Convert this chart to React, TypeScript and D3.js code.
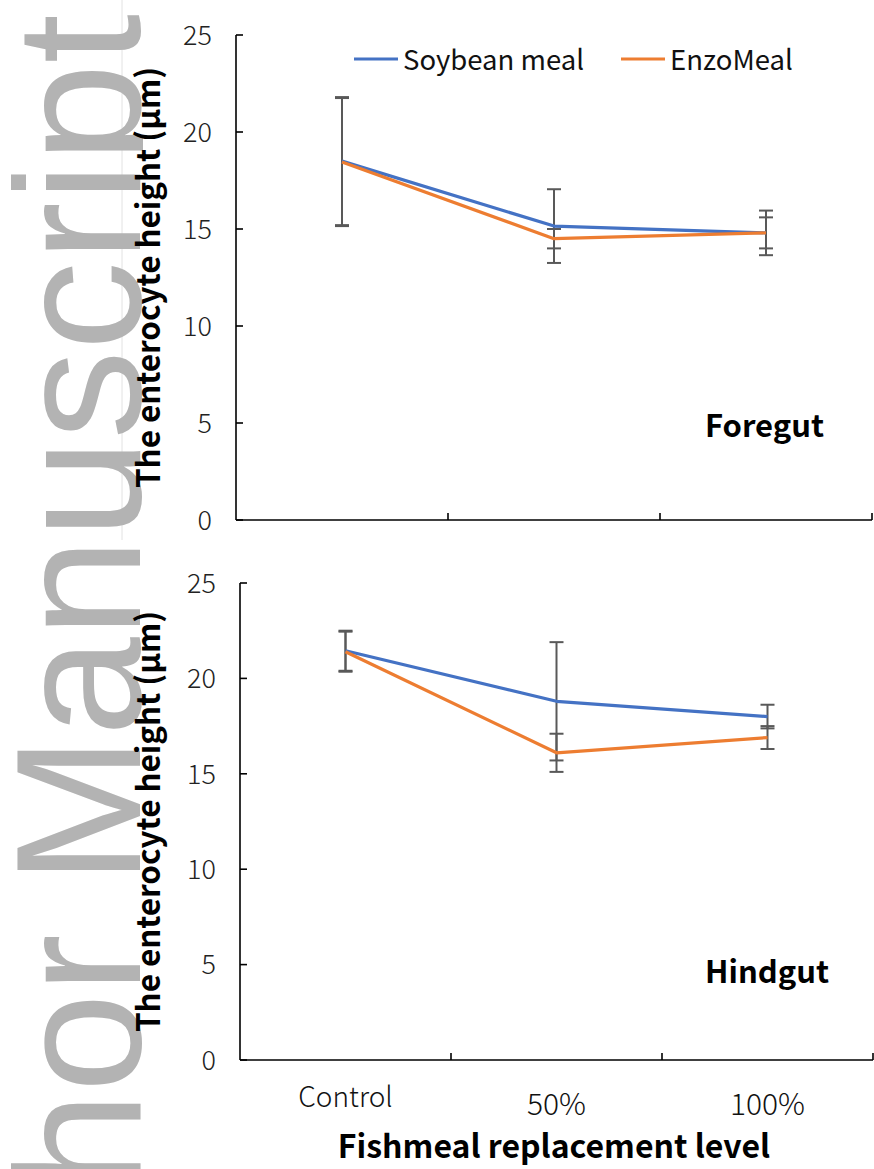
import React from 'react'
import { scaleBand, scaleLinear, line } from 'd3'

const categories = ['Control', '50%', '100%']
const seriesNames = ['Soybean meal', 'EnzoMeal']
const seriesColors = ['#4472C4', '#ED7D31']
const yTicks = [0, 5, 10, 15, 20, 25]

// foregut
const foregutSoy = [18.5, 15.15, 14.8]
const foregutSoyErr = [3.3, 1.9, 1.15]
const foregutEnzo = [18.45, 14.5, 14.8]
const foregutEnzoErr = [3.3, 0.5, 0.8]

// hindgut
const hindgutSoy = [21.45, 18.8, 18.0]
const hindgutSoyErr = [1.05, 3.1, 0.62]
const hindgutEnzo = [21.4, 16.1, 16.9]
const hindgutEnzoErr = [1.05, 1.0, 0.6]

const W = 874
const H = 1169
const tickFont = "'Noto Sans CJK SC', 'Noto Sans', sans-serif"
const boldFont = "'Noto Sans CJK SC', 'Noto Sans', sans-serif"

type PanelProps = {
  left: number
  right: number
  top: number
  bottom: number
  means: number[][]
  errs: number[][]
  label: string
  labelX: number
  labelY: number
  legend?: boolean
  showCats?: boolean
}

function Panel({ left, right, top, bottom, means, errs, label, labelX, labelY, legend, showCats }: PanelProps) {
  const x = scaleBand().domain(categories).range([left, right]).padding(0)
  const y = scaleLinear().domain([0, 25]).range([bottom, top])
  const cx = (c: string) => (x(c) as number) + x.bandwidth() / 2
  const path = line<number>()
    .x((d, i) => cx(categories[i]))
    .y(d => y(d))
  const bounds = [...categories.map(c => x(c) as number), right]
  const midY = (top + bottom) / 2

  return (
    <g>
      {/* error bars */}
      {means.map((s, si) =>
        s.map((m, i) => {
          const px = cx(categories[i])
          const e = errs[si][i]
          return (
            <g key={`e${si}-${i}`} stroke="#595959" strokeWidth={2}>
              <line x1={px} x2={px} y1={y(m + e)} y2={y(m - e)} />
              <line x1={px - 7} x2={px + 7} y1={y(m + e)} y2={y(m + e)} />
              <line x1={px - 7} x2={px + 7} y1={y(m - e)} y2={y(m - e)} />
            </g>
          )
        })
      )}
      {/* lines */}
      {means.map((s, si) => (
        <path key={`l${si}`} d={path(s) || ''} fill="none" stroke={seriesColors[si]} strokeWidth={3.2} strokeLinejoin="round" />
      ))}
      {/* axes */}
      <line x1={left} x2={left} y1={top} y2={bottom} stroke="#000" strokeWidth={1.6} />
      <line x1={left} x2={right} y1={bottom} y2={bottom} stroke="#000" strokeWidth={1.6} />
      {yTicks.map(t => (
        <g key={`yt${t}`}>
          <line x1={left} x2={left + 7} y1={y(t)} y2={y(t)} stroke="#000" strokeWidth={1.6} />
          <text x={left - 24} y={y(t)} dy="0.36em" textAnchor="end" fontFamily={tickFont} fontWeight={300} fontSize={27} fill="#222">{t}</text>
        </g>
      ))}
      {bounds.slice(1).map((b, i) => (
        <line key={`xt${i}`} x1={b} x2={b} y1={bottom} y2={bottom - 7} stroke="#000" strokeWidth={1.6} />
      ))}
      {showCats && categories.map((c, i) => (
        <text key={`c${c}`} x={cx(c)} y={i === 0 ? bottom + 47 : bottom + 55} textAnchor="middle" fontFamily={tickFont} fontWeight={300} fontSize={i === 0 ? 28 : 30} fill="#111">{c}</text>
      ))}
      {/* y title */}
      <text transform={`translate(${160}, ${midY}) rotate(-90)`} textAnchor="middle" fontFamily={boldFont} fontWeight={700} fontSize={32} textLength={421} lengthAdjust="spacingAndGlyphs" fill="#000">The enterocyte height (μm)</text>
      <text x={labelX} y={labelY} fontFamily={boldFont} fontWeight={700} fontSize={31} fill="#000">{label}</text>
      {legend && (
        <g>
          {seriesNames.map((n, i) => {
            const lx = i === 0 ? 354 : 621
            return (
              <g key={n}>
                <line x1={lx} x2={lx + 44} y1={59} y2={59} stroke={seriesColors[i]} strokeWidth={3.2} />
                <text x={lx + 49} y={60} dy="0.35em" fontFamily={tickFont} fontWeight={400} fontSize={27.5} fill="#111">{n}</text>
              </g>
            )
          })}
        </g>
      )}
    </g>
  )
}

export default function App() {
  return (
    <svg width={W} height={H} style={{ display: 'block', position: 'absolute', left: 0, top: 0, background: '#fff' }}>
      <defs>
        <clipPath id="wm">
          <rect x={0} y={0} width={143} height={H} />
        </clipPath>
      </defs>
      <rect width={W} height={H} fill="#fff" />
      <line x1={122} x2={122} y1={0} y2={540} stroke="#e2e2e2" strokeWidth={1} />
      <g clipPath="url(#wm)">
        <text transform="translate(140, 14) rotate(-90)" textAnchor="end" fontFamily="'Liberation Sans', Arial, sans-serif" fontSize={178} fill="#b3b3b3">Author Manuscript</text>
      </g>
      <Panel left={236} right={872} top={35} bottom={520} means={[foregutSoy, foregutEnzo]} errs={[foregutSoyErr, foregutEnzoErr]} label="Foregut" labelX={705} labelY={437} legend />
      <Panel left={240} right={873} top={583} bottom={1060} means={[hindgutSoy, hindgutEnzo]} errs={[hindgutSoyErr, hindgutEnzoErr]} label="Hindgut" labelX={705} labelY={983} showCats />
      <text x={554} y={1158} textAnchor="middle" fontFamily={boldFont} fontWeight={700} fontSize={32} fill="#000">Fishmeal replacement level</text>
    </svg>
  )
}
